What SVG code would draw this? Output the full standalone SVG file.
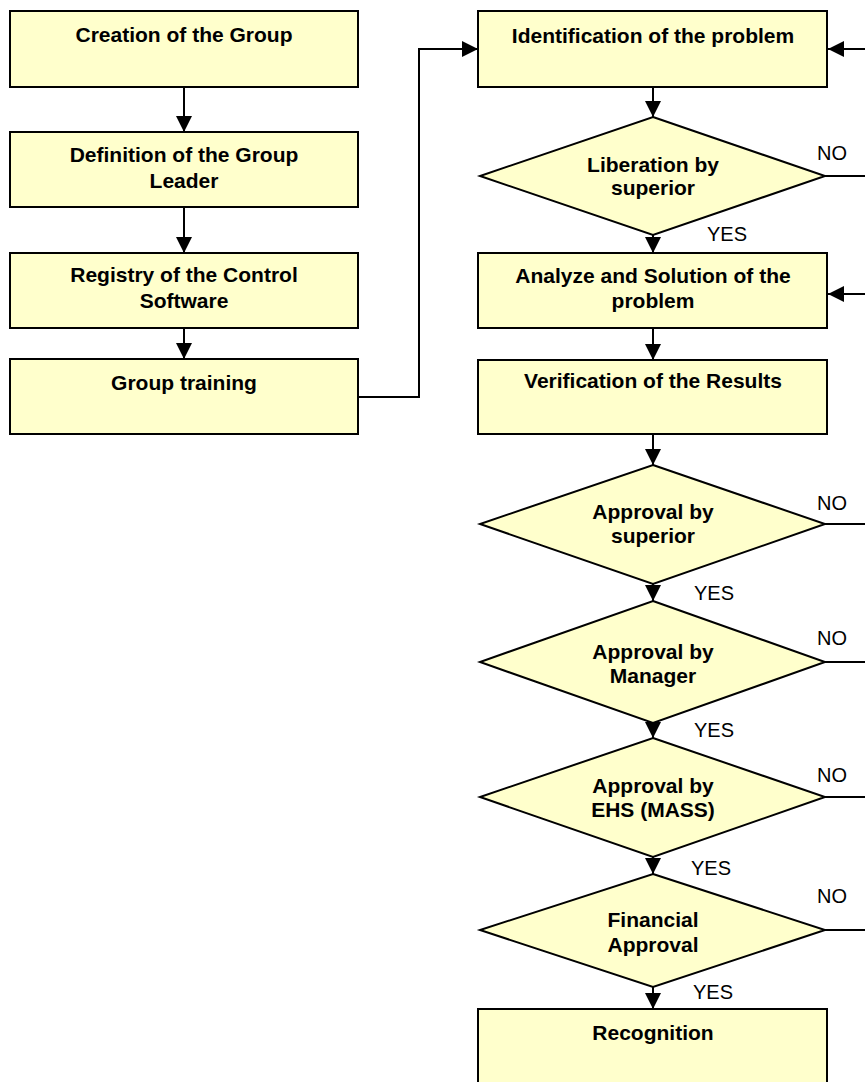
<svg xmlns="http://www.w3.org/2000/svg" width="865" height="1082" viewBox="0 0 865 1082">
<defs>
<style>
.box{fill:#FFFFCC;stroke:#000;stroke-width:2}
.t{font-family:"Liberation Sans",Arial,sans-serif;font-weight:bold;font-size:21px;fill:#000;text-anchor:middle}
.lbl{font-family:"Liberation Sans",Arial,sans-serif;font-size:20px;fill:#000}
.c{fill:none;stroke:#000;stroke-width:2}
</style>
<marker id="ah" viewBox="0 0 16 16" refX="16" refY="8" markerWidth="16" markerHeight="16" markerUnits="userSpaceOnUse" orient="auto">
<path d="M0,0 L16,8 L0,16 Z" fill="#000"/>
</marker>
</defs>
<rect width="865" height="1082" fill="#fff"/>
<g id="connectors">
<path class="c" d="M184,87 V132" marker-end="url(#ah)"/>
<path class="c" d="M184,207 V253" marker-end="url(#ah)"/>
<path class="c" d="M184,328 V359" marker-end="url(#ah)"/>
<path class="c" d="M358,397 H419 V49 H478" marker-end="url(#ah)"/>
<path class="c" d="M653,87 V117" marker-end="url(#ah)"/>
<path class="c" d="M653,235 V253" marker-end="url(#ah)"/>
<path class="c" d="M653,328 V360" marker-end="url(#ah)"/>
<path class="c" d="M653,434 V465" marker-end="url(#ah)"/>
<path class="c" d="M653,584 V601" marker-end="url(#ah)"/>
<path class="c" d="M653,723 V738" marker-end="url(#ah)"/>
<path class="c" d="M653,857 V874" marker-end="url(#ah)"/>
<path class="c" d="M653,987 V1009" marker-end="url(#ah)"/>
<path class="c" d="M866,49 H828" marker-end="url(#ah)"/>
<path class="c" d="M866,294 H828" marker-end="url(#ah)"/>
<path class="c" d="M825,176 H866"/>
<path class="c" d="M825,524 H866"/>
<path class="c" d="M825,662 H866"/>
<path class="c" d="M825,797 H866"/>
<path class="c" d="M825,930 H866"/>
<text class="lbl" x="817" y="160">NO</text>
<text class="lbl" x="707" y="241">YES</text>
<text class="lbl" x="817" y="510">NO</text>
<text class="lbl" x="694" y="600">YES</text>
<text class="lbl" x="817" y="645">NO</text>
<text class="lbl" x="694" y="737">YES</text>
<text class="lbl" x="817" y="782">NO</text>
<text class="lbl" x="691" y="875">YES</text>
<text class="lbl" x="817" y="903">NO</text>
<text class="lbl" x="693" y="999">YES</text>
</g>
<g id="creation"><rect class="box" x="10" y="11" width="348" height="76"/><text class="t" x="184" y="42">Creation of the Group</text></g>
<g id="definition"><rect class="box" x="10" y="132" width="348" height="75"/><text class="t" x="184" y="162">Definition of the Group</text><text class="t" x="184" y="188">Leader</text></g>
<g id="registry"><rect class="box" x="10" y="253" width="348" height="75"/><text class="t" x="184" y="282">Registry of the Control</text><text class="t" x="184" y="308">Software</text></g>
<g id="training"><rect class="box" x="10" y="359" width="348" height="75"/><text class="t" x="184" y="390">Group training</text></g>
<g id="identification"><rect class="box" x="478" y="11" width="349" height="76"/><text class="t" x="653" y="43">Identification of the problem</text></g>
<g id="liberation"><polygon class="box" points="653,117 825,176 653,235 480,176"/><text class="t" x="653" y="172">Liberation by</text><text class="t" x="653" y="195">superior</text></g>
<g id="analyze"><rect class="box" x="478" y="253" width="349" height="75"/><text class="t" x="653" y="283">Analyze and Solution of the</text><text class="t" x="653" y="308">problem</text></g>
<g id="verification"><rect class="box" x="478" y="360" width="349" height="74"/><text class="t" x="653" y="388">Verification of the Results</text></g>
<g id="approval-superior"><polygon class="box" points="653,465 825,524 653,584 480,524"/><text class="t" x="653" y="519">Approval by</text><text class="t" x="653" y="543">superior</text></g>
<g id="approval-manager"><polygon class="box" points="653,601 825,662 653,723 480,662"/><text class="t" x="653" y="659">Approval by</text><text class="t" x="653" y="683">Manager</text></g>
<g id="approval-ehs"><polygon class="box" points="653,738 825,797 653,857 480,797"/><text class="t" x="653" y="793">Approval by</text><text class="t" x="653" y="817">EHS (MASS)</text></g>
<g id="financial"><polygon class="box" points="653,874 825,930 653,987 480,930"/><text class="t" x="653" y="927">Financial</text><text class="t" x="653" y="952">Approval</text></g>
<g id="recognition"><rect class="box" x="478" y="1009" width="349" height="76"/><text class="t" x="653" y="1040">Recognition</text></g>
</svg>
